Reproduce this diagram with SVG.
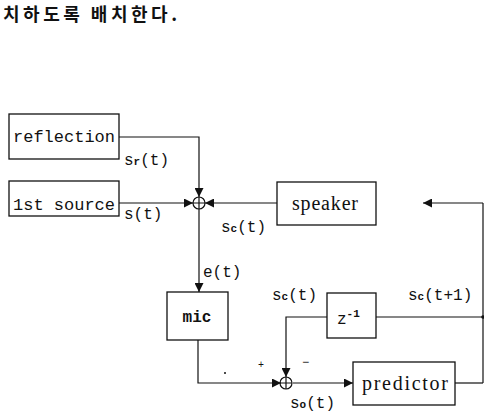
<svg xmlns="http://www.w3.org/2000/svg" width="484" height="412" viewBox="0 0 484 412">
<style>
.box{fill:#fff;stroke:#111;stroke-width:1.3}
.ln{fill:none;stroke:#111;stroke-width:1.2}
.mono{font-family:"Liberation Mono","DejaVu Sans Mono",monospace;fill:#111}
.serif{font-family:"Liberation Serif","DejaVu Serif",serif;fill:#111}
.lbl{font-family:"Liberation Mono","DejaVu Sans Mono",monospace;font-size:16px;fill:#111}
.sub{font-size:11px;font-weight:bold}
</style>
<defs>
<marker id="ah" viewBox="0 0 10 10" refX="10" refY="5" markerWidth="9" markerHeight="9" markerUnits="userSpaceOnUse" orient="auto">
<path d="M0,0 L10,5 L0,10 z" fill="#111"/>
</marker>
</defs>
<text x="3" y="21" font-family="'Noto Sans CJK KR',sans-serif" font-size="18" font-weight="bold" fill="#111" textLength="174">치하도록 배치한다.</text>
<g id="connectors">
<path class="ln" d="M119,137 H199 V197" marker-end="url(#ah)"/>
<path class="ln" d="M119,203 H193" marker-end="url(#ah)"/>
<path class="ln" d="M277,203 H205" marker-end="url(#ah)"/>
<path class="ln" d="M199,209 V292" marker-end="url(#ah)"/>
<path class="ln" d="M483,203 H423" marker-end="url(#ah)"/>
<path class="ln" d="M483,203 V383"/>
<path class="ln" d="M198,340 V383 H281" marker-end="url(#ah)"/>
<path class="ln" d="M327,317 H286 V377" marker-end="url(#ah)"/>
<path class="ln" d="M376,317 H483"/>
<circle cx="483" cy="317" r="1.8" fill="#111"/>
<path class="ln" d="M293,383 H353" marker-end="url(#ah)"/>
<path class="ln" d="M455,383 H483"/>
<circle cx="225" cy="373" r="1" fill="#111"/>
</g>
<g id="sum1">
<circle cx="199" cy="203" r="6" class="ln"/>
<path class="ln" d="M193,203 H205 M199,197 V209"/>
</g>
<g id="sum2">
<circle cx="286" cy="383" r="6" class="ln"/>
<path class="ln" d="M280,383 H292 M286,377 V389"/>
<text x="258" y="368" class="mono" font-size="10">+</text>
<text x="302" y="366" class="mono" font-size="12">−</text>
</g>
<g id="reflection">
<rect x="9" y="114" width="110" height="45" class="box"/>
<text x="64" y="142" class="mono" font-size="17" text-anchor="middle">reflection</text>
</g>
<g id="source">
<rect x="9" y="181" width="110" height="35" class="box"/>
<text x="64" y="210" class="mono" font-size="17" text-anchor="middle">1st source</text>
</g>
<g id="speaker">
<rect x="277" y="182" width="99" height="43" class="box"/>
<text x="292" y="210" class="serif" font-size="20" textLength="66">speaker</text>
</g>
<g id="mic">
<rect x="167" y="292" width="61" height="48" class="box"/>
<text x="197" y="322" class="mono" font-size="16" font-weight="bold" text-anchor="middle">mic</text>
</g>
<g id="delay">
<rect x="327" y="293" width="49" height="45" class="box"/>
<text x="337" y="324" class="mono" font-size="16">z<tspan font-size="11" dy="-7" font-weight="bold">-1</tspan></text>
</g>
<g id="predictor">
<rect x="353" y="362" width="102" height="43" class="box"/>
<text x="362" y="390" class="serif" font-size="20" textLength="86">predictor</text>
</g>
<g id="labels">
<text x="124" y="165" class="lbl">s<tspan class="sub">r</tspan>(t)</text>
<text x="124" y="219" class="lbl">s(t)</text>
<text x="221" y="232" class="lbl">s<tspan class="sub">c</tspan>(t)</text>
<text x="203" y="277" class="lbl">e(t)</text>
<text x="272" y="300" class="lbl">s<tspan class="sub">c</tspan>(t)</text>
<text x="408" y="300" class="lbl">s<tspan class="sub">c</tspan>(t+1)</text>
<text x="290" y="408" class="lbl">s<tspan class="sub">o</tspan>(t)</text>
</g>
</svg>
